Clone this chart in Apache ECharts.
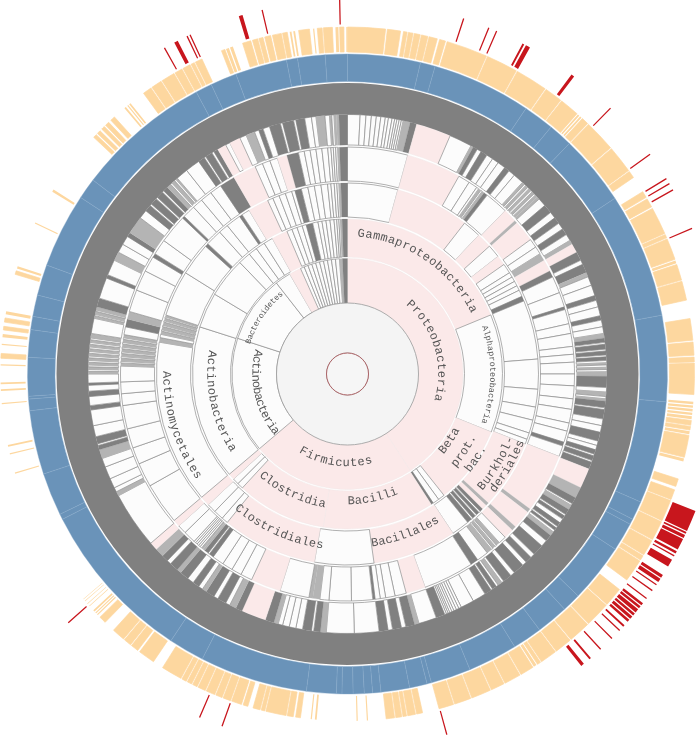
<!DOCTYPE html>
<html><head><meta charset="utf-8">
<style>html,body{margin:0;padding:0;background:#fff}#c{width:696px;height:736px}</style>
<script src="https://cdn.jsdelivr.net/npm/echarts@6/dist/echarts.min.js"></script>
</head><body><div id="c"></div>
<script>
// Cells: [angle at which the cell ends, kind]  W white, P pink, G dense dark, L dense light
const W='W',P='P',G='G',L='L';
const phylumCells=[[147,P],[229.7,P],[288,W],[322,W],[330,W],[336,P],[338,W],[340,W],[342,W],[344,W],[346,W],[348,W],[350,W],[352,W],[354,W],[356,W],[357.5,L],[360,G]];
const classCells=[[67.6,P],[112,W],[141.5,P],[144,W],[146.4,W],[147.3,G],[189,P],[222.7,P],[225,W],[227.3,W],[229.7,P],[287.7,W],[301,W],[316,W],[320.7,W],[324,W],[327.5,W],[331,W],[337,P],[339,W],[341,W],[343,W],[344.5,W],[347,G],[349,W],[350.5,W],[352,W],[353.5,W],[355,W],[356,W],[356.8,W],[357.4,W],[358,L],[360,G]];
const orderCells=[[15.3,W],[37.8,P],[43.4,W],[48,P],[52,W],[55,P],[58,W],[59.5,W],[61,W],[62.5,W],[64,W],[66,W],[67.5,G],[85.5,W],[94.6,W],[100,W],[104,W],[108,W],[110,W],[111.5,W],[132.5,P],[133.5,L],[135,P],[136,G],[136.5,W],[137.5,G],[138,W],[139,G],[139.5,W],[141,G],[146.5,W],[172,P],[190,W],[219,P],[221,W],[224,W],[226.8,W],[229.8,P],[279.6,W],[281,L],[282,W],[283,L],[283.4,W],[284.4,L],[284.8,W],[285.8,L],[286.2,W],[287,L],[287.4,W],[288,L],[302,W],[312,W],[313,G],[318,W],[321,W],[325.6,W],[326.5,G],[329,W],[335.3,P],[337,W],[339,W],[341,W],[343,W],[344,W],[346,G],[348,W],[350,W],[352,W],[354,W],[355,W],[356,W],[356.8,W],[357.4,W],[358,L],[360,G]];
const familyCells=[[15.4,W],[29.4,P],[32.4,W],[34.7,W],[35.3,W],[36,L],[36.4,W],[37,L],[38,G],[44,W],[47.5,P],[48.3,L],[53.7,P],[56,W],[58,W],[60,L],[63,P],[64.7,G],[69,W],[72.8,W],[73.5,G],[77.2,W],[79.7,W],[83,W],[85,W],[87,W],[90,W],[93,W],[96.3,W],[99,W],[102.5,W],[104.6,W],[107.5,W],[108.5,G],[111.3,W],[126.5,P],[127.5,L],[132.3,P],[133.5,L],[136,P],[138,W],[139,L],[139.4,W],[140.2,L],[140.6,W],[142,L],[145,W],[147,G],[160,W],[165,P],[167.9,W],[170.3,W],[171.7,W],[173,W],[173.6,G],[179,W],[184.7,W],[187,W],[188.8,L],[189.8,L],[197.3,W],[205,P],[208,W],[210.6,W],[213.3,W],[216.3,W],[217.5,G],[217.9,W],[219,G],[219.5,L],[220,L],[220.5,W],[221,W],[221.5,W],[222,W],[222.5,W],[225.7,W],[228,W],[229.8,P],[240.5,W],[246.7,W],[251,W],[256,W],[262,W],[265,W],[268,W],[272,W],[272.8,L],[273.2,W],[274,L],[274.4,W],[275.2,L],[275.6,W],[276.4,L],[276.8,W],[277.6,L],[278,W],[278.8,L],[279.2,W],[280,L],[282,W],[284,G],[286,L],[291.7,W],[297,W],[301,W],[302,G],[306,W],[313.4,W],[314,G],[317.3,W],[320,W],[323,W],[326,W],[330,G],[336,P],[338,W],[340,W],[342,W],[344.5,P],[347.5,G],[349,W],[350.5,W],[352,W],[353.5,W],[355,W],[355.8,W],[356.4,W],[357,W],[357.5,W],[358,L],[360,G]];
const genusCells=[[2.8,W],[4.1,W],[5.3,W],[6.4,W],[7.4,W],[8.4,W],[9.1,W],[9.9,W],[10.5,W],[11,W],[11.5,W],[12,W],[12.4,W],[14,L],[15.5,G],[23.3,P],[28.4,W],[29,L],[30,G],[31,W],[32.5,G],[34,W],[35.5,W],[37.3,W],[38.5,G],[40,W],[42.4,W],[43,L],[43.4,W],[44,L],[44.4,W],[45,L],[45.4,W],[46,L],[46.4,W],[47,L],[47.6,L],[49.5,W],[51.5,G],[53,W],[54.5,G],[56,W],[57.5,G],[59,W],[60,L],[62,P],[64,G],[65,W],[67,G],[68,L],[70,W],[72.4,W],[73.5,G],[75,W],[77,W],[78,G],[79.5,W],[81,W],[82,L],[83,G],[83.4,W],[84.5,G],[84.9,W],[85.8,G],[86.2,W],[87,G],[87.5,W],[88,L],[88.5,W],[89,L],[89.5,W],[90.5,L],[93,G],[94,W],[95,L],[95.5,W],[96,L],[97.5,G],[97.9,W],[100,G],[101.5,W],[103,W],[105,G],[106,W],[107,W],[108,G],[108.4,W],[109.5,G],[109.9,W],[111.5,G],[116,P],[118.5,L],[120,G],[120.4,W],[121.5,L],[122.8,G],[123.2,W],[124,G],[125,W],[126,G],[126.4,W],[127,G],[127.5,W],[128.5,L],[130,G],[131.5,W],[134,G],[135,W],[136.5,G],[137.5,W],[140,G],[141,W],[143,G],[143.5,W],[144.5,L],[145,W],[146,G],[146.4,W],[148,G],[151,W],[154,W],[154.6,W],[155.2,W],[155.8,W],[156.3,W],[156.8,W],[157.2,W],[157.6,W],[158,W],[160,G],[164,W],[165,L],[167,G],[168,W],[170,G],[171,W],[173,G],[178.5,W],[184.7,W],[186,L],[187.5,G],[188,W],[190,G],[191.5,W],[193,W],[194.5,W],[195.5,W],[196.5,L],[198.5,G],[204,P],[205.5,G],[207,L],[208,W],[210,G],[211,W],[213,G],[214,L],[215,W],[216.5,G],[218,W],[220,G],[221,L],[223,G],[224,W],[225.5,G],[227.5,L],[229.3,P],[242,W],[243,L],[244,W],[246.2,W],[249,W],[251,W],[253,L],[254,G],[254.4,W],[256,G],[258.5,W],[262,W],[263,G],[265,W],[266.2,G],[267.5,W],[268,G],[270,W],[270.6,L],[271,W],[271.6,L],[272,W],[272.6,L],[273,W],[273.6,L],[274,W],[274.6,L],[275,W],[275.6,L],[276,W],[276.6,L],[277,W],[277.6,L],[278,W],[279,L],[282.4,W],[283,L],[283.3,W],[284,L],[284.3,W],[285,L],[287,G],[291.7,W],[292.5,G],[296,W],[298,L],[300,W],[302,W],[303,G],[307,L],[309,W],[310.5,G],[310.9,W],[312.5,G],[312.9,W],[314.5,G],[314.9,W],[316,G],[317,L],[317.4,W],[318.2,L],[318.6,W],[319,L],[321.7,W],[325,W],[326.5,G],[326.9,W],[328.5,G],[329,W],[330,G],[332,P],[333,W],[335.5,P],[337,W],[339,L],[340,W],[341,G],[342.5,W],[345,G],[345.5,W],[348,G],[348.5,W],[350.5,G],[352,W],[353,W],[355,L],[356,W],[356.5,L],[357,W],[357.5,L],[358.1,L],[360,G]];
// Angles of the thin divisions in the blue ring
const blueEnds=[13.2,15.9,33.9,39.5,43.9,56.7,79.4,95,113.6,117,118,123.2,133.9,137.3,143.1,148.5,157.5,164.8,165.6,168.8,174,175.5,177,179,181,182,187.4,207,213.5,243,244,251.8,263.4,265.5,266,273,278,280.4,284.3,289.9,303.5,307.3,331.8,334.8,339.6,349,351,356,360];
const orangeRanges=[[0,6.3],[6.6,8.8],[9.3,9.9],[10.1,10.9],[11.1,12.1],[12.3,13.4],[13.6,15],[15.4,16.4],[16.7,23.6],[23.8,29.1],[29.3,34.7],[34.9,37.9],[38.1,41.4],[41.6,41.9],[42.1,42.4],[42.6,43.8],[44,49.3],[49.5,54.1],[54.3,55.5],
[58.3,59.4],[59.7,61.2],[61.5,66.1],[66.3,66.9],[67.1,70.7],[70.9,71.4],[71.6,74.3],[74.5,77.7],
[80.8,84.4],[84.7,86.9],[87.2,88],[88.2,93.4],[94.6,95],[95.2,95.6],[95.8,96.2],[96.4,96.8],[97,97.5],[97.7,98.5],[98.7,99.3],[99.5,100],[100.2,103.9],[104.1,104.6],
[107.6,108.9],[109.5,111.2],[111.4,115],[115.2,118.5],[118.7,121.4],[121.6,122.4],[122.6,126.4],
[128.4,131.6],[131.8,136],[136.2,139.9],[140.1,143],[143.2,146],[146.2,146.8],[147,147.5],[147.7,150],[150.2,153],[153.2,155.5],[155.7,159],[159.2,162],[162.2,164.7],
[167.5,168.5],[168.7,170],[170.2,170.8],[171,172],[172.2,173.6],[176.6,176.8],[178.3,178.5],[185.1,185.4],[185.9,186.1],
[187.8,188.6],[189,190],[190.2,193.6],[193.8,194.4],[194.6,195.8],[196.7,197.5],[197.8,199.5],[199.7,201],[201.2,202.3],[202.5,204],[204.2,205.5],[205.7,206.5],[206.7,207.5],[207.7,208.5],[208.7,212.2],
[214,216.8],[217.2,218.5],[218.7,220],[220.2,222.4],[224.3,225.5],[226,226.2],[226.4,226.6],[226.8,227.1],[228,228.1],[228.5,228.6],[229.1,229.2],[229.5,229.6],
[253.3,253.5],[256.6,256.8],[257.9,258.2],[265,265.2],[267.2,267.5],[268.3,268.6],[271.4,271.6],[272.6,273.4],[274.8,275],[276.1,276.6],[277.3,277.9],[278.6,279.3],[279.9,280.4],[286.7,287.3],[287.7,288.1],[295.7,295.9],[301.7,302.1],
[313,313.6],[313.9,314.5],[314.9,315.5],[315.8,316.5],[317,317.8],[320,320.3],[320.6,320.8],[321,321.3],
[324,325.5],[325.7,327.5],[327.7,330],[330.2,331.5],[331.7,333],[333.2,333.8],[334,335.2],
[338.7,339.3],[339.5,340],[340.2,340.7],[342.4,343.8],[344.1,345],[345.2,345.9],[346.2,347.2],[347.5,349],[349.2,350],[350.4,350.7],[351,351.3],[351.9,353.7],[354.3,354.5],[355,355.8],[356,357.5],[358,358.5],[358.7,359.4],[359.8,360]];
const redRanges=[[18,18.2],[22.1,22.3],[23.4,23.6],[27.9,28.2],[28.5,29.2],[36.8,37.3],[44.6,44.8],[53.9,54.1],[58.4,58.6],[59.3,59.5],[60.4,60.6],[67,67.2],
[111.5,114.8],[115,115.3],[115.5,116],[116.2,118],[118.3,118.7],[119,119.2],[119.8,121],[122.5,123],[123.2,123.8],[124.2,124.4],[125.3,125.5],[126.8,127],[127.8,128.2],[128.4,128.8],[129,129.6],[129.8,130.2],[130.4,130.9],[131.1,131.5],[132.2,132.5],[133.2,133.4],[134.9,135.1],[137.3,137.5],[139.4,139.7],[140.8,141.3],
[164.5,164.7],[199.5,199.7],[203.2,203.4],[228.2,228.4],[330.6,330.8],[332.4,333],[334.5,334.7],[335,335.2],[343.1,343.7],[346.7,346.9],[358.7,358.9]];
// Curved labels: text, radius, start angle, end angle, font size
const labelTexts=['Proteobacteria','Firmicutes','Actinobacteria','Bacteroidetes','Gammaproteobacteria','Alphaproteobacteria','Beta','Bacilli','Clostridia','Actinobacteria','prot.','bac.','Burkhol-','deriales','Bacillales','Clostridiales','Actinomycetales'];
const labelRadius=[94,89,92,104,141,145,122,127,132,137,140,154,175,186,171,173,181];
const labelStart=[40,212,285,287,4,70.5,130,180,221,280,131,129,131,129,172,220,271];
const labelEnd=[107,164,230,321,64,110,116.5,157,189.5,236,116,118,111,111,148,188,235];
const labelSize=[12,12,12,8,12,8.5,12,12,12,12,12,12,12,12,12,12,12];

const CENTER=[347.5,374];
const fills={W:'#fcfcfc',P:'#fbe9e9',G:'#808080',L:'#b4b4b4'};
const lines={W:'#8e8e8e',P:'#f1e6e6',G:'#808080',L:'#b4b4b4'};
function cellData(cells){let prev=0;return cells.map(([end,kind])=>{const v=end-prev;prev=end;return{value:v,itemStyle:{color:fills[kind],borderColor:lines[kind],borderWidth:kind==='W'?0.7:(kind==='P'?0.5:0.2)}}})}
function rangeData(ranges,color,widen){const out=[];let prev=0;ranges.forEach(([a,b])=>{if(a>prev)out.push({value:a-prev,itemStyle:{color:'transparent'}});out.push({value:b-a,itemStyle:(widen&&b-a>0.5)?{color,borderColor:color,borderWidth:widen}:{color}});prev=b});if(prev<360)out.push({value:360-prev,itemStyle:{color:'transparent'}});return out}
function blueData(){let prev=0;return blueEnds.map(e=>{const v=e-prev;prev=e;return{value:v,itemStyle:{color:'#6a93b9',borderColor:'#86a9ca',borderWidth:0.4}}})}
function ring(r0,r1,data,z){return{type:'pie',center:CENTER,radius:[r0,r1],startAngle:90,clockwise:true,data,silent:true,label:{show:false},labelLine:{show:false},emphasis:{disabled:true},animation:false,z:z||2}}
const one=(color,border,bw)=>[{value:1,itemStyle:{color,borderColor:border,borderWidth:bw}}];

const chart=echarts.init(document.getElementById('c'),null,{renderer:'canvas'});
chart.setOption({
 animation:false,
 polar:{center:CENTER,radius:374},
 radiusAxis:{min:0,max:374,show:false},
 angleAxis:{min:0,max:360,startAngle:90,clockwise:true,show:false},
 series:[
  ring(71,115.5,cellData(phylumCells)),
  ring(117,155,cellData(classCells)),
  ring(157,191,cellData(orderCells)),
  ring(193,227,cellData(familyCells)),
  ring(229,259.5,cellData(genusCells)),
  ring(259.5,291,one('#808080','#808080',0)),
  ring(292.5,320,blueData()),
  ring(322,347,rangeData(orangeRanges,'#fdd79f',0.7)),
  ring(349.5,374,rangeData(redRanges,'#c8161d',0)),
  ring(21,71,one('#f4f4f4','#999999',0.8)),
  ring(0,21,one('#f6f6f6','#a8575a',0.9)),
  {type:'custom',coordinateSystem:'polar',silent:true,animation:false,z:10,clip:false,
   data:labelTexts.map((t,i)=>({name:t,value:[labelRadius[i],(labelStart[i]+labelEnd[i])/2,i]})),
   encode:{radius:0,angle:1},
   renderItem(params,api){
     const i=api.value(2),t=labelTexts[i],step=(labelEnd[i]-labelStart[i])/t.length;
     const cw=step>0;
     const children=t.split('').map((ch,k)=>{
       const a=labelStart[i]+(k+.5)*step;
       const p=api.coord([labelRadius[i],a]);
       const rot=(cw?-a:180-a)*Math.PI/180;
       return{type:'text',x:p[0],y:p[1],rotation:rot,silent:true,
         style:{text:ch,x:0,y:0,align:'center',verticalAlign:'middle',fill:'#555',font:labelSize[i]+'px "Liberation Mono","Courier New",monospace'}};
     });
     return{type:'group',children};
   }}
 ]
});
</script></body></html>
